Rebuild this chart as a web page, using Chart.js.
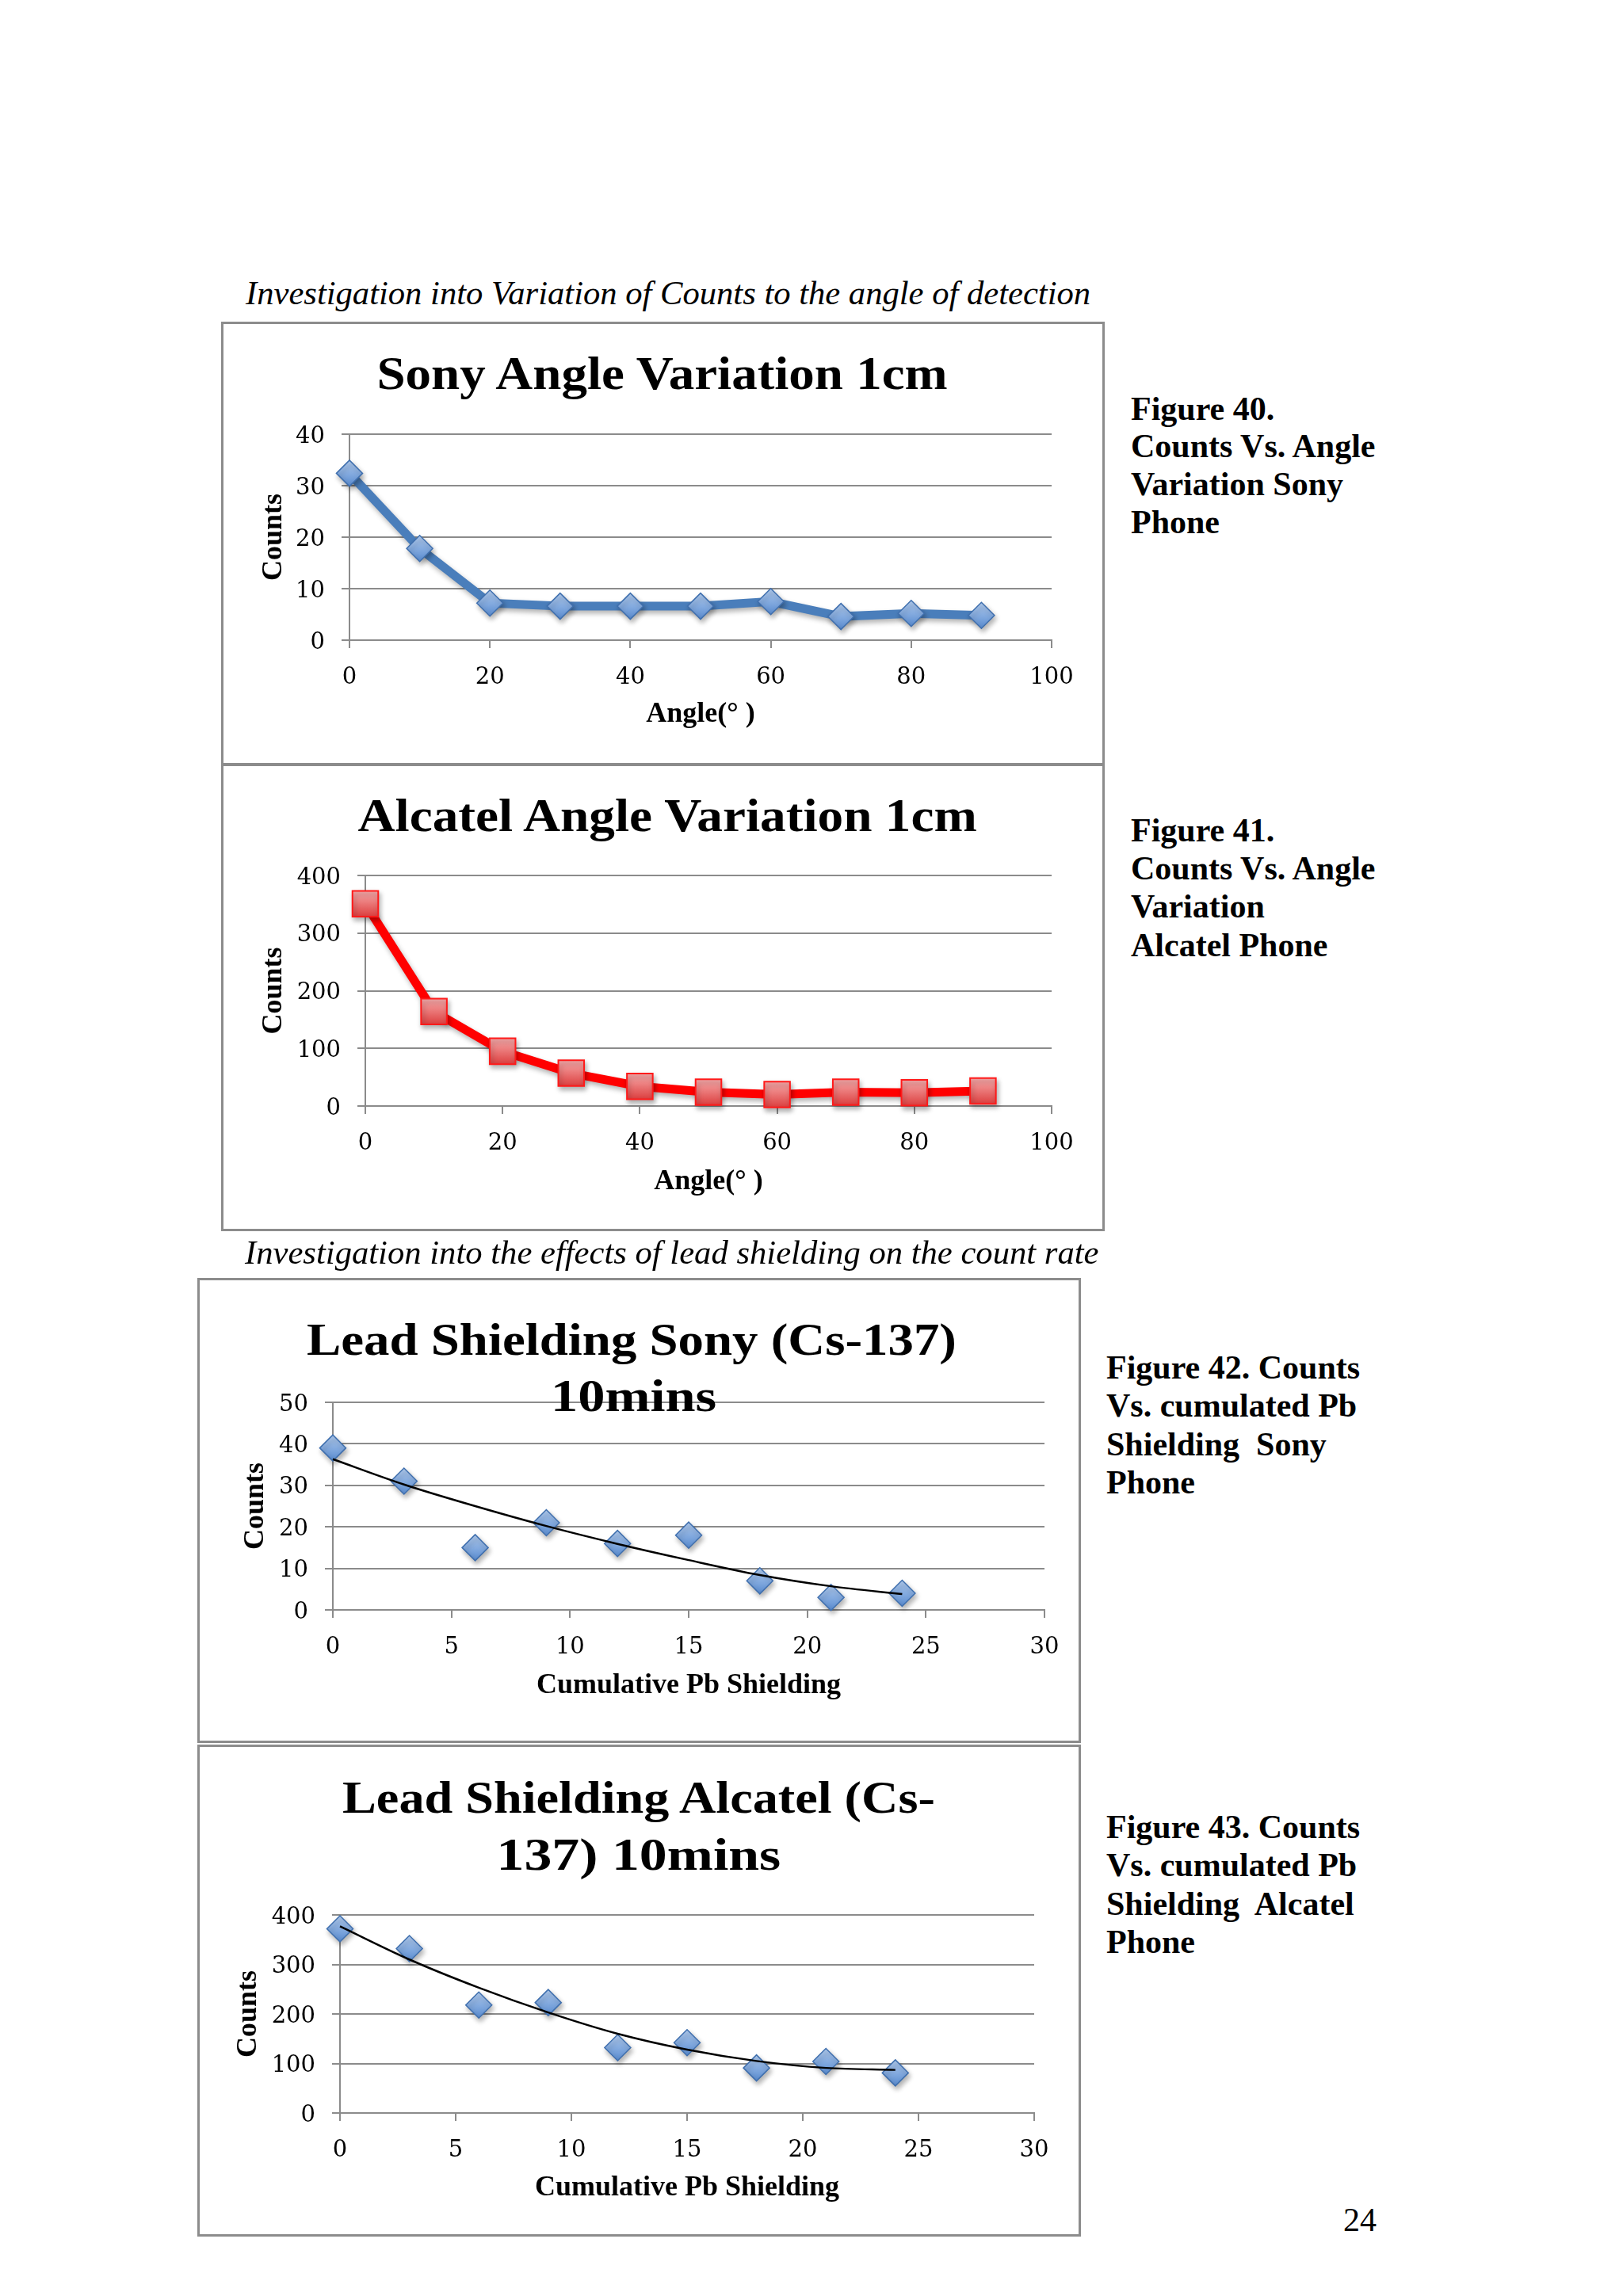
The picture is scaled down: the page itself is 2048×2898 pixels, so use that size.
<!DOCTYPE html>
<html>
<head>
<meta charset="utf-8">
<script src="https://cdn.jsdelivr.net/npm/chart.js@4.4.1/dist/chart.umd.min.js"></script>
<style>
  html, body { margin:0; padding:0; background:#fff; }
  body { position:relative; width:2048px; height:2898px; overflow:hidden; }
  .box { position:absolute; box-sizing:border-box; border:3px solid #8c8c8c; }
  canvas { position:absolute; }
</style>
</head>
<body>
<script>
// ---------------- DATA ----------------
const angleDeg = [0, 10, 20, 30, 40, 50, 60, 70, 80, 90];
const sonyAngleCounts = [32.4, 17.8, 7.2, 6.6, 6.6, 6.6, 7.5, 4.6, 5.2, 4.8];
const alcatelAngleCounts = [351, 164, 95, 57, 34, 24, 20, 24, 23, 26];

const pbShielding = [0, 3, 6, 9, 12, 15, 18, 21, 24];
const sonyPbCounts = [39, 31, 15, 21, 16, 18, 7, 3, 4];
const alcatelPbCounts = [372, 332, 218, 223, 132, 142, 91, 104, 81];
// trendlines
const sonyPbTrend = [36.3, 30.2, 25.0, 20.2, 15.9, 12.0, 8.4, 5.7, 3.8];
const alcatelPbTrend = [377, 310, 253, 203, 160, 128, 105, 91, 87];

const angleAxis = { min: 0, max: 100, step: 20 };
const sonyAngleAxis = { min: 0, max: 40, step: 10 };
const alcatelAngleAxis = { min: 0, max: 400, step: 100 };
const pbAxis = { min: 0, max: 30, step: 5 };
const sonyPbAxis = { min: 0, max: 50, step: 10 };
const alcatelPbAxis = { min: 0, max: 400, step: 100 };

const chartTitles = [
  ["Sony Angle Variation 1cm"],
  ["Alcatel Angle Variation 1cm"],
  ["Lead Shielding Sony (Cs-137)", "10mins"],
  ["Lead Shielding Alcatel (Cs-", "137) 10mins"]
];
const xTitles = ["Angle(° )", "Angle(° )", "Cumulative Pb Shielding", "Cumulative Pb Shielding"];
const yTitle = "Counts";
const sectionCaptions = [
  "Investigation into Variation of Counts to the angle of detection",
  "Investigation into the effects of lead shielding on the count rate"
];
const figureCaptions = [
  ["Figure 40.", "Counts Vs. Angle", "Variation Sony", "Phone"],
  ["Figure 41.", "Counts Vs. Angle", "Variation", "Alcatel Phone"],
  ["Figure 42. Counts", "Vs. cumulated Pb", "Shielding  Sony", "Phone"],
  ["Figure 43. Counts", "Vs. cumulated Pb", "Shielding  Alcatel", "Phone"]
];
const pageNumber = "24";

// ---------------- HELPERS ----------------
const GRID = '#8b8b8b';
const SERIF = "'Liberation Serif'";

function addText(t) {
  const el = document.createElement('div');
  el.textContent = t.text;
  el.style.cssText = `position:absolute;white-space:pre;line-height:1;font-family:${SERIF};font-size:${t.size}px;font-weight:${t.bold ? 'bold' : 'normal'};font-style:${t.italic ? 'italic' : 'normal'};color:#000;z-index:5;`;
  document.body.appendChild(el);
  const w = el.offsetWidth;
  const s = t.width ? t.width / w : 1;
  el.style.top = (t.baseline - 0.8375 * t.size) + 'px';
  if (t.center !== undefined) {
    el.style.left = (t.center - w / 2) + 'px';
    el.style.transformOrigin = '50% 0';
  } else {
    el.style.left = t.left + 'px';
    el.style.transformOrigin = '0 0';
  }
  if (s !== 1) el.style.transform = `scaleX(${s})`;
}

function addBox(b) {
  const d = document.createElement('div');
  d.className = 'box';
  d.style.left = b.left + 'px'; d.style.top = b.top + 'px';
  d.style.width = b.w + 'px'; d.style.height = b.h + 'px';
  document.body.appendChild(d);
}

function markerFill(top, bottom, half) {
  return (ctx) => {
    if (ctx.type !== 'data' || !ctx.raw) return bottom;
    const ys = ctx.chart.scales.y;
    if (!ys) return bottom;
    const py = ys.getPixelForValue(ctx.raw.y);
    if (!isFinite(py)) return bottom;
    const g = ctx.chart.ctx.createLinearGradient(0, py - half, 0, py + half);
    g.addColorStop(0, top);
    g.addColorStop(1, bottom);
    return g;
  };
}

const shadowPlugin = {
  id: 'softShadow',
  beforeDatasetDraw(chart, args) {
    const ds = chart.data.datasets[args.index];
    chart.ctx.save();
    if (!ds.noShadow) {
      chart.ctx.shadowColor = 'rgba(0,0,0,0.30)';
      chart.ctx.shadowBlur = 6;
      chart.ctx.shadowOffsetX = 2;
      chart.ctx.shadowOffsetY = 4;
    }
  },
  afterDatasetDraw(chart) { chart.ctx.restore(); }
};

function pts(xs, ys) { return xs.map((x, i) => ({ x: x, y: ys[i] })); }

function makeChart(c) {
  const cv = document.createElement('canvas');
  cv.width = c.w; cv.height = c.h;
  cv.style.left = c.left + 'px'; cv.style.top = c.top + 'px';
  cv.style.width = c.w + 'px'; cv.style.height = c.h + 'px';
  document.body.appendChild(cv);
  return new Chart(cv.getContext('2d'), {
    type: 'scatter',
    data: { datasets: c.datasets },
    options: {
      responsive: false,
      animation: false,
      devicePixelRatio: 1,
      layout: { padding: c.pad },
      plugins: { legend: { display: false }, tooltip: { enabled: false }, title: { display: false } },
      scales: {
        x: {
          type: 'linear', min: c.xAxis.min, max: c.xAxis.max,
          ticks: { stepSize: c.xAxis.step, autoSkip: false, maxRotation: 0, padding: 20, color: '#000',
                   font: { family: "'DejaVu Serif'", size: 29 } },
          grid: { drawOnChartArea: false, drawTicks: true, tickLength: 10, color: GRID, lineWidth: 2 },
          border: { display: true, color: GRID, width: 2 },
          title: { display: true, text: c.xTitle, color: '#000', padding: { top: 0, bottom: 0 },
                   font: { family: SERIF, weight: 'bold', size: 36 } },
          afterFit(s) { s.height = c.xH; s.paddingLeft = 0; s.paddingRight = 0; }
        },
        y: {
          type: 'linear', min: c.yAxis.min, max: c.yAxis.max,
          ticks: { stepSize: c.yAxis.step, padding: 21, labelOffset: 3, color: '#000',
                   font: { family: "'DejaVu Serif'", size: 29 } },
          grid: { drawTicks: true, tickLength: 10, color: GRID, lineWidth: 2 },
          border: { display: true, color: GRID, width: 2 },
          title: { display: true, text: yTitle, color: '#000', padding: { top: 0, bottom: 0 },
                   font: { family: SERIF, weight: 'bold', size: 36 } },
          afterFit(s) { s.width = c.yW; s.paddingTop = 0; s.paddingBottom = 0; }
        }
      }
    },
    plugins: [shadowPlugin]
  });
}

function blueDiamonds(data, withLine) {
  return {
    data: data, showLine: withLine, clip: false,
    borderColor: '#4a7ebb', borderWidth: withLine ? 11 : 0,
    pointStyle: 'rectRot', pointRadius: 16.5, pointHoverRadius: 16.5,
    pointBorderColor: '#3f6fae', pointBorderWidth: 1.5,
    pointBackgroundColor: markerFill('#b0cbef', '#5a8cd0', 16),
    tension: 0
  };
}

function trendLine(data) {
  return {
    data: data, showLine: true, clip: false, noShadow: true,
    borderColor: '#000', borderWidth: 2.5, pointRadius: 0,
    cubicInterpolationMode: 'monotone'
  };
}

function build() {
  // boxes
  addBox({ left: 279, top: 406, w: 1115, h: 560 });
  addBox({ left: 279, top: 964, w: 1115, h: 590 });
  addBox({ left: 249, top: 1613, w: 1115, h: 587 });
  addBox({ left: 249, top: 2202, w: 1115, h: 621 });

  // chart 1: Sony angle
  makeChart({
    left: 279, top: 406, w: 1115, h: 559,
    pad: { left: 45, right: 67, top: 142, bottom: 42 }, yW: 117, xH: 115,
    xAxis: angleAxis, yAxis: sonyAngleAxis, xTitle: xTitles[0],
    datasets: [blueDiamonds(pts(angleDeg, sonyAngleCounts), true)]
  });

  // chart 2: Alcatel angle
  makeChart({
    left: 279, top: 964, w: 1115, h: 588,
    pad: { left: 45, right: 67, top: 141, bottom: 39 }, yW: 137, xH: 117,
    xAxis: angleAxis, yAxis: alcatelAngleAxis, xTitle: xTitles[1],
    datasets: [{
      data: pts(angleDeg, alcatelAngleCounts), showLine: true, clip: false,
      borderColor: '#ff0000', borderWidth: 11,
      pointStyle: 'rect', pointRadius: 23, pointHoverRadius: 23,
      pointBorderColor: '#ff1a1a', pointBorderWidth: 2,
      pointBackgroundColor: markerFill('#f7aaaa', '#dc4040', 16),
      tension: 0
    }]
  });

  // chart 3: Sony lead shielding
  makeChart({
    left: 249, top: 1614, w: 1115, h: 585,
    pad: { left: 52, right: 46, top: 156, bottom: 50 }, yW: 119, xH: 117,
    xAxis: pbAxis, yAxis: sonyPbAxis, xTitle: xTitles[2],
    datasets: [trendLine(pts(pbShielding, sonyPbTrend)), blueDiamonds(pts(pbShielding, sonyPbCounts), false)]
  });

  // chart 4: Alcatel lead shielding
  makeChart({
    left: 249, top: 2203, w: 1115, h: 619,
    pad: { left: 43, right: 59, top: 214, bottom: 39 }, yW: 137, xH: 116,
    xAxis: pbAxis, yAxis: alcatelPbAxis, xTitle: xTitles[3],
    datasets: [trendLine(pts(pbShielding, alcatelPbTrend)), blueDiamonds(pts(pbShielding, alcatelPbCounts), false)]
  });

  // section captions
  addText({ text: sectionCaptions[0], italic: true, size: 42, left: 310, baseline: 384, width: 1066 });
  addText({ text: sectionCaptions[1], italic: true, size: 42, left: 309, baseline: 1595, width: 1077 });

  // chart titles
  addText({ text: chartTitles[0][0], bold: true, size: 60, center: 835, baseline: 491, width: 720 });
  addText({ text: chartTitles[1][0], bold: true, size: 60, center: 842, baseline: 1049, width: 781 });
  addText({ text: chartTitles[2][0], bold: true, size: 56, center: 797, baseline: 1710, width: 820 });
  addText({ text: chartTitles[2][1], bold: true, size: 56, center: 799, baseline: 1781, width: 209 });
  addText({ text: chartTitles[3][0], bold: true, size: 56, center: 806, baseline: 2288, width: 748 });
  addText({ text: chartTitles[3][1], bold: true, size: 56, center: 806, baseline: 2360, width: 359 });

  // figure captions
  const capPos = [
    { left: 1427, base: [530, 577, 625, 673] },
    { left: 1427, base: [1062, 1110, 1158, 1207] },
    { left: 1396, base: [1740, 1788, 1837, 1885] },
    { left: 1396, base: [2320, 2368, 2417, 2465] }
  ];
  figureCaptions.forEach((lines, i) => {
    lines.forEach((ln, j) => addText({ text: ln, bold: true, size: 42, left: capPos[i].left, baseline: capPos[i].base[j] }));
  });

  addText({ text: pageNumber, size: 42, left: 1695, baseline: 2816 });
}

if (document.fonts && document.fonts.ready) {
  document.fonts.ready.then(build);
} else {
  build();
}
</script>
</body>
</html>
